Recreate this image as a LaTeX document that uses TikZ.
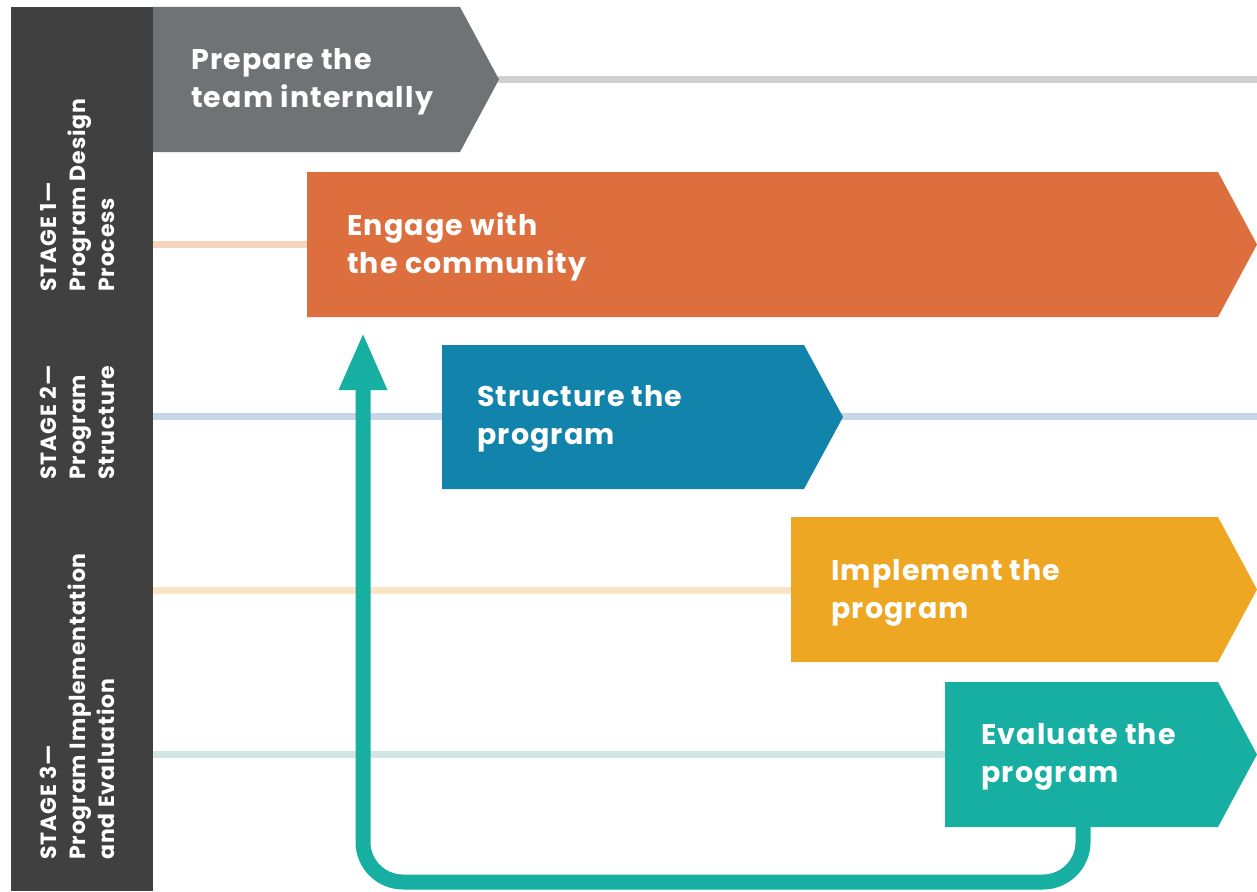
\documentclass[tikz,border=0pt]{standalone}
\usepackage{fontspec}
\setmainfont{Poppins}[LetterSpace=4]
\usetikzlibrary{arrows.meta}
\definecolor{stagebar}{HTML}{404040}
\definecolor{prepgray}{HTML}{707375}
\definecolor{engageorange}{HTML}{DD6E3D}
\definecolor{structblue}{HTML}{1283AB}
\definecolor{implyellow}{HTML}{EEA722}
\definecolor{evalteal}{HTML}{17AFA1}
\definecolor{prepline}{HTML}{D1D0D1}
\definecolor{engageline}{HTML}{F5D5C0}
\definecolor{structline}{HTML}{C6D6E6}
\definecolor{implline}{HTML}{FBE4C6}
\definecolor{evalline}{HTML}{CFE6E2}
\def\chevron[#1](#2,#3,#4,#5){\fill[#1] (#2,#3) -- (#4,#3) -- ({#4+39},{(#3+#5)/2}) -- (#4,#5) -- (#2,#5) -- cycle;}

\begin{document}
\begin{tikzpicture}[x=1pt,y=-1pt,
	steptext/.style={text=white,font=\bfseries\fontsize{28.5}{38}\selectfont,align=left,anchor=west,inner sep=0pt},
	stagetext/.style={text=white,font=\bfseries\fontsize{22}{29}\selectfont,align=left,rotate=90,anchor=north west,inner sep=0pt},
	trackline/.style={line width=7pt},
	looparrow/.style={evalteal,line width=15pt,rounded corners=40pt,-{Triangle[width=44pt,length=58pt]}}]
			%%%%% START %%%%%
			\useasboundingbox (0,0) rectangle (1257,891);
			
			\fill[stagebar] (11,7) rectangle (153,891);
			
			\draw[trackline, prepline] (498,79) -- (1257,79);
			\draw[trackline, engageline] (153,244) -- (307,244);
			\draw[trackline, structline] (153,416) -- (1257,416);
			\draw[trackline, implline] (153,590) -- (791,590);
			\draw[trackline, evalline] (153,754) -- (945,754);
			
			\chevron[prepgray](153,7,460,152)
			\chevron[engageorange](307,172,1218,317)
			\chevron[structblue](442,345,804,489)
			\chevron[implyellow](791,517,1218,662)
			\chevron[evalteal](945,682,1218,827)
			
			\node[steptext] (prep) at (191,82) {Prepare the\\team internally};
			\node[steptext] (engage) at (347,247) {Engage with\\the community};
			\node[steptext] (struct) at (477,419) {Structure the\\program};
			\node[steptext] (impl) at (831,593) {Implement the\\program};
			\node[steptext] (evalu) at (981,757) {Evaluate the\\program};
			
			\node[stagetext] (stage1) at (40,292) {STAGE 1---\\Program Design\\Process};
			\node[stagetext] (stage2) at (40,480) {STAGE 2---\\Program\\Structure};
			\node[stagetext] (stage3) at (40,860) {STAGE 3---\\Program Implementation\\and Evaluation};
			
			\coordinate (evalout) at (1083,827);
			\coordinate (engagein) at (363,332);
			\draw[looparrow] (evalout) -- (evalout |- 0,882) -- (engagein |- 0,882) -- (engagein);
			
			%%%%% END %%%%%
		\end{tikzpicture}
\end{document}
